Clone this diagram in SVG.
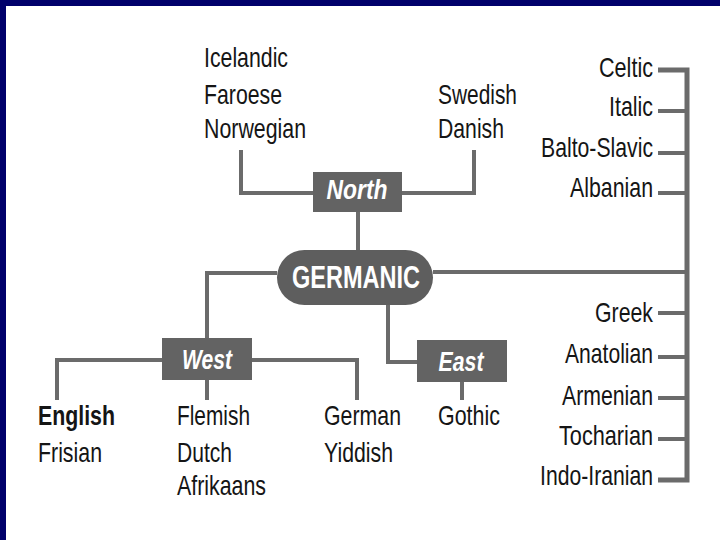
<svg xmlns="http://www.w3.org/2000/svg" width="720" height="540" viewBox="0 0 720 540">
<defs>
<style>
.ln{fill:none;stroke:#6b6b6b;stroke-width:4;stroke-linejoin:miter;stroke-linecap:butt}
.bx{fill:#636363}
.t{font-family:"Liberation Sans",Arial,sans-serif;font-size:28px;fill:#151515}
.b{font-weight:bold}
.lb{font-family:"Liberation Sans",Arial,sans-serif;font-weight:bold;font-style:italic;font-size:27px;fill:#ffffff;text-anchor:middle}
.r{text-anchor:end}
</style>
</defs>
<rect x="0" y="0" width="720" height="540" fill="#ffffff"/>
<rect x="0" y="0" width="720" height="6" fill="#00006b"/>
<rect x="0" y="0" width="6" height="540" fill="#00006b"/>
<g id="connectors">
<path class="ln" d="M241,150 V193 H474 V150"/>
<path class="ln" d="M358,212 V250"/>
<path class="ln" d="M277,273 H207 V338"/>
<path class="ln" d="M57,400 V360 H357 V400"/>
<path class="ln" d="M207,380 V400"/>
<path class="ln" d="M388,305 V362 H417"/>
<path class="ln" d="M462,382 V400"/>
<path class="ln" d="M433,272 H687"/>
<path class="ln" style="stroke-width:5" d="M658,70 H687 V480 H658"/>
<path class="ln" d="M658,111 H687 M658,153 H687 M658,193 H687 M658,313 H687 M658,357 H687 M658,398 H687 M658,439 H687"/>
</g>
<g id="north">
<rect class="bx" x="313" y="172" width="89" height="40"/>
<text class="lb" x="357" y="199" textLength="61" lengthAdjust="spacingAndGlyphs">North</text>
</g>
<g id="germanic">
<rect x="277" y="250" width="156" height="55" rx="27.5" fill="#5e5e5e"/>
<text x="356" y="288" font-family="'Liberation Sans',Arial,sans-serif" font-weight="bold" font-size="31" fill="#ffffff" text-anchor="middle" textLength="128" lengthAdjust="spacingAndGlyphs">GERMANIC</text>
</g>
<g id="west">
<rect class="bx" x="162" y="338" width="90" height="42"/>
<text class="lb" x="207" y="369" textLength="50" lengthAdjust="spacingAndGlyphs">West</text>
</g>
<g id="east">
<rect class="bx" x="417" y="340" width="90" height="42"/>
<text class="lb" x="461" y="371" textLength="45" lengthAdjust="spacingAndGlyphs">East</text>
</g>
<g id="north-west-langs">
<text class="t" x="204" y="67" textLength="84" lengthAdjust="spacingAndGlyphs">Icelandic</text>
<text class="t" x="204" y="104" textLength="78" lengthAdjust="spacingAndGlyphs">Faroese</text>
<text class="t" x="204" y="138" textLength="102" lengthAdjust="spacingAndGlyphs">Norwegian</text>
</g>
<g id="north-east-langs">
<text class="t" x="438" y="104" textLength="79" lengthAdjust="spacingAndGlyphs">Swedish</text>
<text class="t" x="438" y="138" textLength="66" lengthAdjust="spacingAndGlyphs">Danish</text>
</g>
<g id="anglo-frisian">
<text class="t b" x="38" y="425" textLength="77" lengthAdjust="spacingAndGlyphs">English</text>
<text class="t" x="38" y="462" textLength="64" lengthAdjust="spacingAndGlyphs">Frisian</text>
</g>
<g id="low-franconian">
<text class="t" x="177" y="425" textLength="73" lengthAdjust="spacingAndGlyphs">Flemish</text>
<text class="t" x="177" y="462" textLength="55" lengthAdjust="spacingAndGlyphs">Dutch</text>
<text class="t" x="177" y="495" textLength="89" lengthAdjust="spacingAndGlyphs">Afrikaans</text>
</g>
<g id="high-german">
<text class="t" x="324" y="425" textLength="77" lengthAdjust="spacingAndGlyphs">German</text>
<text class="t" x="324" y="462" textLength="69" lengthAdjust="spacingAndGlyphs">Yiddish</text>
</g>
<g id="gothic">
<text class="t" x="438" y="425" textLength="62" lengthAdjust="spacingAndGlyphs">Gothic</text>
</g>
<g id="celtic"><text class="t r" x="653" y="77" textLength="54" lengthAdjust="spacingAndGlyphs">Celtic</text></g>
<g id="italic"><text class="t r" x="653" y="116" textLength="44" lengthAdjust="spacingAndGlyphs">Italic</text></g>
<g id="balto-slavic"><text class="t r" x="653" y="157" textLength="112" lengthAdjust="spacingAndGlyphs">Balto-Slavic</text></g>
<g id="albanian"><text class="t r" x="653" y="197" textLength="83" lengthAdjust="spacingAndGlyphs">Albanian</text></g>
<g id="greek"><text class="t r" x="653" y="322" textLength="58" lengthAdjust="spacingAndGlyphs">Greek</text></g>
<g id="anatolian"><text class="t r" x="653" y="363" textLength="88" lengthAdjust="spacingAndGlyphs">Anatolian</text></g>
<g id="armenian"><text class="t r" x="653" y="405" textLength="91" lengthAdjust="spacingAndGlyphs">Armenian</text></g>
<g id="tocharian"><text class="t r" x="653" y="445" textLength="94" lengthAdjust="spacingAndGlyphs">Tocharian</text></g>
<g id="indo-iranian"><text class="t r" x="653" y="485" textLength="113" lengthAdjust="spacingAndGlyphs">Indo-Iranian</text></g>
</svg>
